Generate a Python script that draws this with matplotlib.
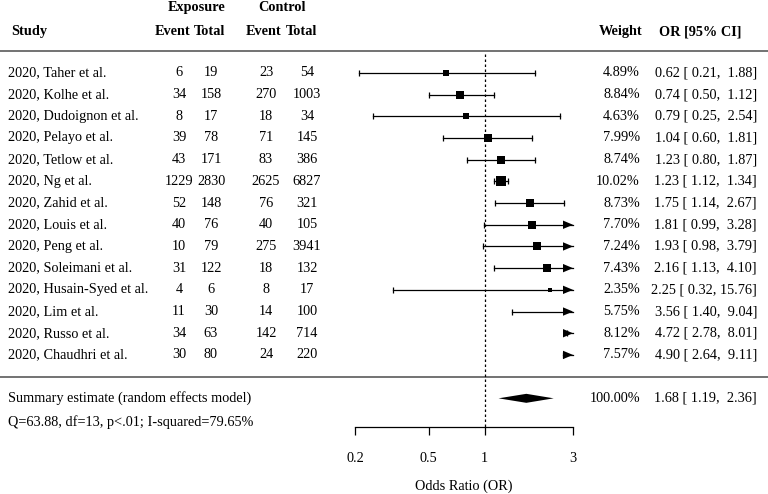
import numpy as np
import matplotlib
matplotlib.use("Agg")
import matplotlib.pyplot as plt
from matplotlib.transforms import blended_transform_factory

plt.rcParams['font.family'] = ['Liberation Serif', 'DejaVu Serif']

# ---------------- data ----------------
studies = ["2020, Taher et al.", "2020, Kolhe et al.", "2020, Dudoignon et al.",
           "2020, Pelayo et al.", "2020, Tetlow et al.", "2020, Ng et al.",
           "2020, Zahid et al.", "2020, Louis et al.", "2020, Peng et al.",
           "2020, Soleimani et al.", "2020, Husain-Syed et al.", "2020, Lim et al.",
           "2020, Russo et al.", "2020, Chaudhri et al."]
exp_event = [6, 34, 8, 39, 43, 1229, 52, 40, 10, 31, 4, 11, 34, 30]
exp_total = [19, 158, 17, 78, 171, 2830, 148, 76, 79, 122, 6, 30, 63, 80]
ctl_event = [23, 270, 18, 71, 83, 2625, 76, 40, 275, 18, 8, 14, 142, 24]
ctl_total = [54, 1003, 34, 145, 386, 6827, 321, 105, 3941, 132, 17, 100, 714, 220]
weight = [4.89, 8.84, 4.63, 7.99, 8.74, 10.02, 8.73, 7.70, 7.24, 7.43, 2.35, 5.75, 8.12, 7.57]
or_est = [0.62, 0.74, 0.79, 1.04, 1.23, 1.23, 1.75, 1.81, 1.93, 2.16, 2.25, 3.56, 4.72, 4.90]
ci_lo = [0.21, 0.50, 0.25, 0.60, 0.80, 1.12, 1.14, 0.99, 0.98, 1.13, 0.32, 1.40, 2.78, 2.64]
ci_hi = [1.88, 1.12, 2.54, 1.81, 1.87, 1.34, 2.67, 3.28, 3.79, 4.10, 15.76, 9.04, 8.01, 9.11]

summary_label = "Summary estimate (random effects model)"
summary_est, summary_lo, summary_hi = 1.68, 1.19, 2.36
summary_weight = 100.00
het_text = "Q=63.88, df=13, p<.01; I-squared=79.65%"

xticks = [0.2, 0.5, 1, 3]
xtick_labels = ["0.2", "0.5", "1", "3"]
xlabel = "Odds Ratio (OR)"

# ---------------- layout ----------------
W, H = 768, 494
fig = plt.figure(figsize=(W / 100, H / 100), dpi=100)
x0_px, x1_px = 355, 573
ax = fig.add_axes([x0_px / W, 0, (x1_px - x0_px) / W, 1])
ax.set_xscale('log')
xmin, xmax = 0.2, 3
ax.set_xlim(xmin, xmax)
ax.set_ylim(-5.41, 17.36)
ax.patch.set_alpha(0)

n = len(studies)
ys = np.arange(n, 0, -1)
px_per_y = 21.7
px_per_ln = (x1_px - x0_px) / np.log(xmax / xmin)

FS = 10.3
fx = blended_transform_factory(fig.transFigure, ax.transData)

def ftext(xpx, y, s, ha='left', bold=False):
    ax.text(xpx / W, y, s, transform=fx, ha=ha, va='center', fontsize=FS,
            fontweight='bold' if bold else 'normal')

# headers
ftext(197, 17.0, "Exposure", ha='center', bold=True)
ftext(282, 17.0, "Control", ha='center', bold=True)
ftext(11, 15.9, "Study", bold=True)
ftext(173, 15.9, "Event", ha='center', bold=True)
ftext(210, 15.9, "Total", ha='center', bold=True)
ftext(264, 15.9, "Event", ha='center', bold=True)
ftext(302, 15.9, "Total", ha='center', bold=True)
ftext(643, 15.9, "Weight", ha='right', bold=True)
ftext(659, 15.9, "OR [95% CI]", ha='left', bold=True)

# separator lines
for yl in (15, 0):
    ax.plot([0, 1], [yl, yl], transform=fx, color='#5a5a5a', lw=1.2, clip_on=False)

# reference line
ax.plot([1, 1], [15 - 0.15, -2.32], color='black', lw=0.9, ls=(0, (2, 2)), clip_on=False)

head_len = np.exp(10 / px_per_ln)
head_h = 4.2 / px_per_y
tick_h = 5

for i in range(n):
    y = ys[i]
    ftext(8, y, studies[i])
    ftext(179, y, str(exp_event[i]), ha='center')
    ftext(211, y, str(exp_total[i]), ha='center')
    ftext(266, y, str(ctl_event[i]), ha='center')
    ftext(307, y, str(ctl_total[i]), ha='center')
    ftext(640, y, f"{weight[i]:.2f}%", ha='right')
    ftext(757, y, f"{or_est[i]:.2f} [{ci_lo[i]:5.2f}, {ci_hi[i]:5.2f}]", ha='right')

    lo = max(ci_lo[i], xmin)
    hi = min(ci_hi[i], xmax)
    ax.plot([lo, hi], [y, y], color='black', lw=0.9, clip_on=False)
    if ci_lo[i] >= xmin:
        ax.plot([ci_lo[i]], [y], marker='|', ms=tick_h, mew=0.9, color='black')
    if ci_hi[i] <= xmax:
        ax.plot([ci_hi[i]], [y], marker='|', ms=tick_h, mew=0.9, color='black')
    else:
        ax.fill([xmax / head_len, xmax, xmax / head_len], [y - head_h, y, y + head_h],
                color='black', lw=0, clip_on=False)
    if xmin <= or_est[i] <= xmax:
        side_px = 1.4 + 0.81 * weight[i]
        ax.plot([or_est[i]], [y], marker='s', ms=side_px * 0.72, color='black', mew=0)

# summary
ftext(8, -1, summary_label)
ftext(8, -2.1, het_text)
ftext(640, -1, f"{summary_weight:.2f}%", ha='right')
ftext(757, -1, f"{summary_est:.2f} [{summary_lo:5.2f}, {summary_hi:5.2f}]", ha='right')
dh = 4.5 / px_per_y
ax.fill([summary_lo, summary_est, summary_hi, summary_est],
        [-1, -1 + dh, -1, -1 - dh], color='black', lw=0)

# axis
for s in ('top', 'left', 'right'):
    ax.spines[s].set_visible(False)
ax.spines['bottom'].set_position(('data', -2.32))
ax.spines['bottom'].set_bounds(xmin, xmax)
ax.spines['bottom'].set_linewidth(0.9)
ax.set_yticks([])
ax.set_xticks(xticks)
ax.set_xticklabels(xtick_labels, fontsize=FS)
ax.xaxis.set_minor_locator(matplotlib.ticker.NullLocator())
ax.tick_params(axis='x', direction='out', length=5.8, width=0.9, pad=12)
ax.set_xlabel(xlabel, fontsize=FS, labelpad=11)

fig.savefig("out.png", dpi=100)
